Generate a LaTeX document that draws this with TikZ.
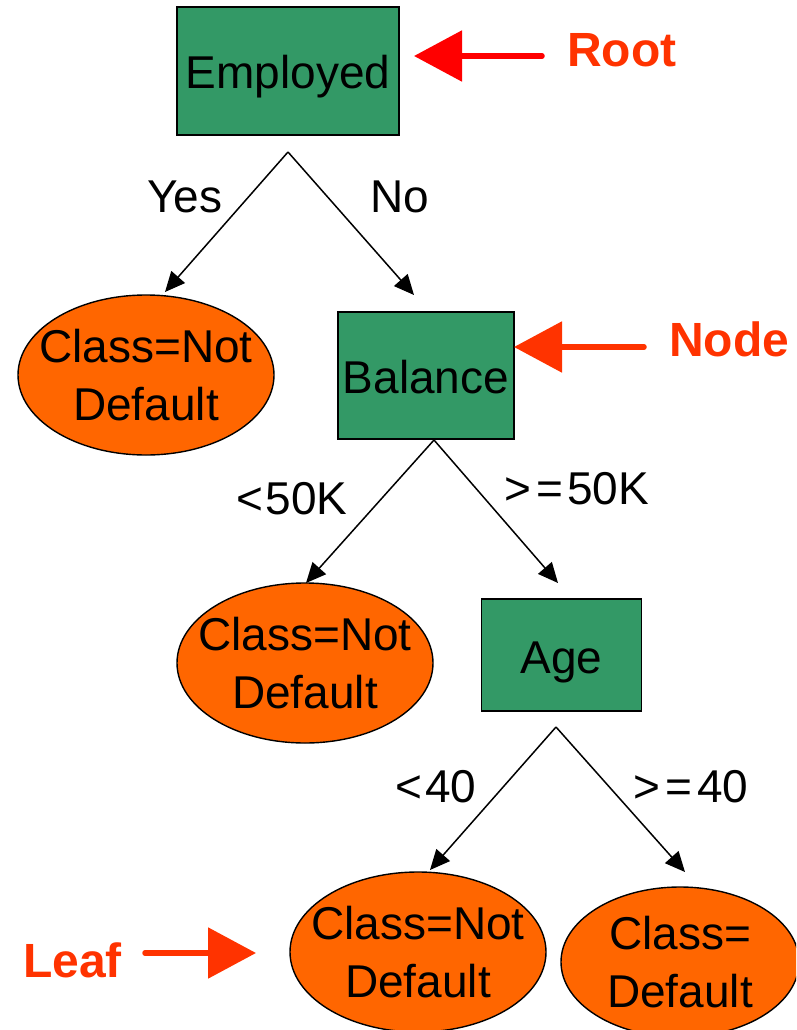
\documentclass[tikz,border=0pt]{standalone}
\usepackage{fontspec}
\setmainfont{Liberation Sans}
\usetikzlibrary{shapes.geometric,arrows.meta}
\definecolor{boxgreen}{HTML}{339966}
\definecolor{leaforange}{HTML}{FF6600}
\definecolor{calloutred}{HTML}{FF3300}
\definecolor{rootred}{HTML}{FF0000}

\begin{document}
\begin{tikzpicture}[x=1pt,y=-1pt,
  test/.style={draw=black, line width=1.4pt, fill=boxgreen, inner sep=0pt,
    text height=36pt, text depth=0pt, font=\fontsize{46}{56}\selectfont},
  leaf/.style={ellipse, draw=black, line width=1.4pt, fill=leaforange, inner sep=0pt},
  leaftext/.style={align=center, inner sep=0pt, font=\fontsize{46}{58}\selectfont},
  branch/.style={line width=1.5pt, -{Triangle[length=20pt,width=18pt]}},
  cond/.style={anchor=base, inner sep=0pt, font=\fontsize{46}{56}\selectfont},
  callout/.style={line width=5.5pt, line cap=round, -{Triangle[length=48pt,width=50pt]}},
  tag/.style={anchor=base west, inner sep=0pt, text=calloutred,
    font=\bfseries\fontsize{48}{58}\selectfont}]

\useasboundingbox (0,0) rectangle (796,1030);
\clip (0,0) rectangle (796,1030);

% decision boxes
\node[test, minimum width=222pt, minimum height=128pt] (root) at (288,71) {Employed};
\node[test, minimum width=176pt, minimum height=127pt] (balance) at (426,375.5) {Balance};
\node[test, minimum width=160pt, minimum height=112pt] (age) at (561.5,655) {Age};

% leaves
\node[leaf, minimum width=256pt, minimum height=160pt] (leafA) at (146,375) {};
\node[leaftext] (leafAtext) at (leafA) {Class=Not\\Default};
\node[leaf, minimum width=256pt, minimum height=160pt] (leafB) at (305,663) {};
\node[leaftext] (leafBtext) at (leafB) {Class=Not\\Default};
\node[leaf, minimum width=256pt, minimum height=160pt] (leafC) at (418,952) {};
\node[leaftext] (leafCtext) at (leafC) {Class=Not\\Default};
\node[leaf, minimum width=238pt, minimum height=150pt] (leafD) at (680,962) {};
\node[leaftext] (leafDtext) at (leafD) {Class=\\Default};

% branch end points
\coordinate (rootfork) at (288,152);
\coordinate (toLeafA) at (165,292);
\coordinate (toBalance) at (414,295);
\coordinate (balancefork) at (434,440);
\coordinate (toLeafB) at (306,583);
\coordinate (toAge) at (558,583);
\coordinate (agefork) at (556,727);
\coordinate (toLeafC) at (430,870);
\coordinate (toLeafD) at (685,872);

\draw[branch] (rootfork) -- (toLeafA);
\draw[branch] (rootfork) -- (toBalance);
\draw[branch] (balancefork) -- (toLeafB);
\draw[branch] (balancefork) -- (toAge);
\draw[branch] (agefork) -- (toLeafC);
\draw[branch] (agefork) -- (toLeafD);

% branch conditions
\node[cond] (yes) at (185,212) {Yes};
\node[cond] (no) at (400,212) {No};
\node[cond] (lt50) at (292,514) {<\kern2pt50K};
\node[cond] (ge50) at (577,504) {>\kern5pt=\kern4pt50K};
\node[cond] (lt40) at (436,802) {<\kern3pt40};
\node[cond] (ge40) at (691,802) {>\kern5pt=\kern5pt40};

% callouts
\node[tag] (rootTag) at (567,67) {Root};
\node[tag] (nodeTag) at (669,356) {Node};
\node[tag] (leafTag) at (23,977) {Leaf};

\coordinate (rootTail) at (542,56);
\coordinate (rootTip) at (414,56);
\coordinate (nodeTail) at (644,347);
\coordinate (nodeTip) at (514,347);
\coordinate (leafTail) at (145,953);
\coordinate (leafTip) at (256,953);

\draw[callout, draw=rootred, fill=rootred] (rootTail) -- (rootTip);
\draw[callout, draw=calloutred, fill=calloutred] (nodeTail) -- (nodeTip);
\draw[callout, draw=calloutred, fill=calloutred] (leafTail) -- (leafTip);
\end{tikzpicture}
\end{document}
